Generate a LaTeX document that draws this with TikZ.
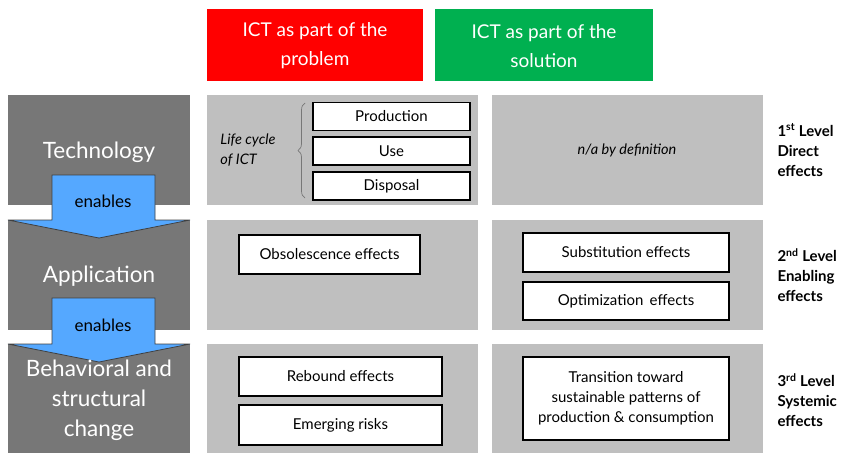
\documentclass[tikz,border=0pt]{standalone}
\usepackage{fontspec}
\setmainfont{Lato}
\usetikzlibrary{decorations.pathreplacing}
\definecolor{dgrey}{HTML}{777777}
\definecolor{lgrey}{HTML}{BFBFBF}
\definecolor{hred}{HTML}{FF0000}
\definecolor{hgreen}{HTML}{00B050}
\definecolor{ablue}{HTML}{55A8FF}
\tikzset{
  hdr/.style={text=white, font=\fontsize{19}{29}\selectfont, align=center},
  lvl/.style={text=white, font=\fontsize{22.5}{30}\selectfont, align=center},
  wbox/.style={draw=black, line width=1.6pt, fill=white, font=\fontsize{15}{20}\selectfont, align=center},
  eff/.style={font=\bfseries\fontsize{15}{20}\selectfont, align=left, anchor=west},
  ital/.style={font=\itshape\fontsize{14.5}{20}\selectfont, align=left},
  arr/.style={fill=ablue, draw=black!75, line width=0.8pt},
  enab/.style={font=\fontsize{17}{20}\selectfont},
}
\begin{document}
\begin{tikzpicture}[x=1pt,y=-1pt]
\useasboundingbox (0,0) rectangle (850,461);
% headers
\fill[hred] (207,9) rectangle (423,81);
\node[hdr] (hp) at (315,46) {ICT as part of the\\problem};
\fill[hgreen] (435,9) rectangle (653,81);
\node[hdr] (hs) at (544,46) {ICT as part of the\\solution};
% left column
\fill[dgrey] (8,95) rectangle (190,205);
\fill[dgrey] (8,220) rectangle (190,330);
\fill[dgrey] (8,344) rectangle (190,453);
% middle & right
\foreach \a/\b in {95/205,220/330,344/453}{
  \fill[lgrey] (207,\a) rectangle (478,\b);
  \fill[lgrey] (492,\a) rectangle (763,\b);
}
% arrows
\draw[arr] (52,175) -- (155,175) -- (155,220) -- (190,220) -- (99,238) -- (8,220) -- (52,220) -- cycle;
\draw[arr] (52,298) -- (155,298) -- (155,344) -- (190,344) -- (99,362) -- (8,344) -- (52,344) -- cycle;
\node[enab] (en1) at (103,201) {enables};
\node[enab] (en2) at (103,325) {enables};
% left labels
\node[lvl] (tech) at (99,152) {Technology};
\node[lvl] (app) at (99,276) {Application};
\node[lvl] (beh) at (99,400) {Behavioral and\\structural\\change};
% row 1 middle
\node[wbox, minimum width=157pt, minimum height=28pt] (prod) at (391.5,116.5) {Production};
\node[wbox, minimum width=157pt, minimum height=28pt] (use) at (391.5,151) {Use};
\node[wbox, minimum width=157pt, minimum height=28pt] (disp) at (391.5,186) {Disposal};
\node[ital] (lc) at (248,150) {Life cycle\\of ICT};
\coordinate (bt) at (305,103);
\coordinate (bb) at (305,198);
\draw[dgrey, line width=0.7pt, decorate, decoration={brace, amplitude=7pt}] (bb) -- (bt);
\node[ital] (na) at (627,150) {n/a by definition};
% row 2
\node[wbox, minimum width=181pt, minimum height=39pt] (obs) at (329.5,254.5) {Obsolescence effects};
\node[wbox, minimum width=206pt, minimum height=39pt] (sub) at (626,252.5) {Substitution effects};
\node[wbox, minimum width=206pt, minimum height=38pt] (opt) at (626,301) {Optimization\, effects};
% row 3
\node[wbox, minimum width=203pt, minimum height=39pt] (reb) at (340.5,376.5) {Rebound effects};
\node[wbox, minimum width=203pt, minimum height=40pt] (emr) at (340.5,425) {Emerging risks};
\node[wbox, minimum width=206pt, minimum height=83pt] (trn) at (626,398.5) {Transition toward\\sustainable patterns of\\production \& consumption};
% level labels
\node[eff] (l1) at (774,150) {1\textsuperscript{st} Level\\Direct\\effects};
\node[eff] (l2) at (774,275) {2\textsuperscript{nd} Level\\Enabling\\effects};
\node[eff] (l3) at (774,400) {3\textsuperscript{rd} Level\\Systemic\\effects};
\end{tikzpicture}
\end{document}
